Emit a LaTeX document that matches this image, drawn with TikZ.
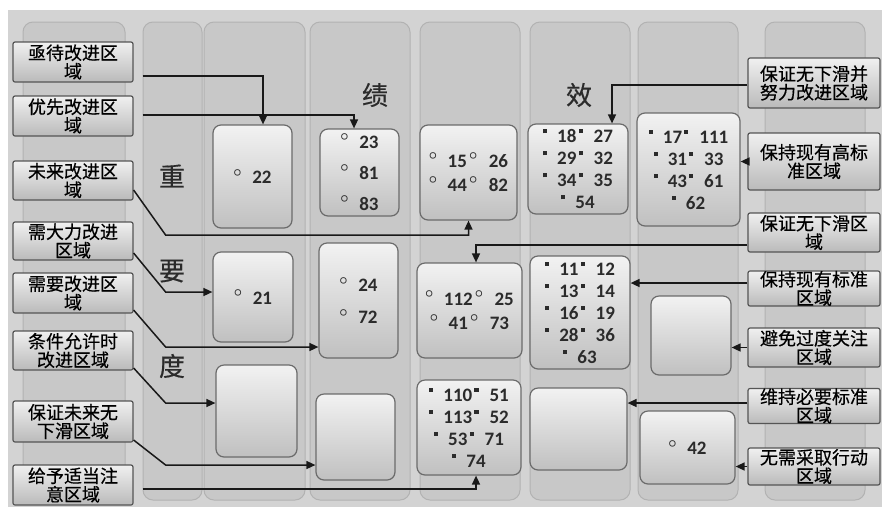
\documentclass[tikz,border=0pt]{standalone}
\usepackage{fontspec}
\usepackage{amsmath}
\usepackage{xcolor}
\usepackage{tikz}
\usetikzlibrary{positioning, arrows.meta}
\newfontfamily\cjk[FakeBold=0.4]{Noto Sans CJK SC}
\newfontfamily\numfont{Carlito}
\definecolor{bggray}{HTML}{D3D3D3}
\definecolor{colfill}{HTML}{C8C8C8}
\definecolor{colline}{HTML}{B2B2B2}
\definecolor{celltop}{HTML}{F2F2F2}
\definecolor{cellbot}{HTML}{C0C0C0}
\definecolor{cellline}{HTML}{6B6B6B}
\definecolor{lbltop}{HTML}{F0F0F0}
\definecolor{lblbot}{HTML}{BABABA}
\definecolor{lblline}{HTML}{555555}
\definecolor{inkgray}{HTML}{2B2B2B}
\newcommand\hbul{\raisebox{1.5pt}{$^{\boldsymbol{\circ}}$}}
\newcommand\fbul{\rule[9.5pt]{4.2pt}{4.2pt}}
\newcommand\numgap{\hspace{10pt}}
\newcommand\colgap{\hspace{11pt}}
\newcommand\tightgap{\hspace{2pt}}
\tikzset{
  colbox/.style={draw=colline, line width=1pt, fill=colfill, rounded corners=10pt},
  cell/.style={draw=cellline, line width=1.2pt, rounded corners=8pt,
    top color=celltop, bottom color=cellbot, inner sep=0pt, align=center,
    text=inkgray, font=\numfont\bfseries\fontsize{19}{22}\selectfont},
  area/.style={draw=lblline, line width=1.2pt, rounded corners=2pt,
    top color=lbltop, bottom color=lblbot, inner sep=0pt, align=center,
    text=black, font=\cjk\fontsize{18}{18.5}\selectfont},
  larea/.style={area, minimum width=120pt},
  rarea/.style={area, minimum width=132pt},
  axischar/.style={font=\cjk\fontsize{26}{26}\selectfont, text=inkgray},
  conn/.style={draw=black!90, line width=1.5pt, -{Triangle[length=9pt,width=8pt]}},
}

\begin{document}
\begin{tikzpicture}[x=1pt, y=-1pt]
  \useasboundingbox (0,0) rectangle (882,507);
  \fill[white] (0,0) rectangle (882,507);
  \fill[bggray] (8,10) rectangle (882,507);
  % columns
  \foreach \xa/\xb in {23/125, 143/202, 204/305, 310/410, 420/520, 530/630, 638/738, 765/865}
    \draw[colbox] (\xa,22) rectangle (\xb,500);

  % axis characters
  \node (ji) [axischar] at (375,95) {绩};
  \node (xiao) [axischar] at (579,95) {效};
  \node (zhong) [axischar] at (172,176) {重};
  \node (yao) [axischar] at (172,271) {要};
  \node (du) [axischar] at (172,366) {度};

  % cells, first row
  \node (c22) [cell, minimum width=79pt, minimum height=103pt] at (252.5,176.5) {\hbul\numgap 22};
  \node (c23) [cell, minimum width=79pt, minimum height=87pt] at (359.5,172.5)
    {\hbul\numgap 23\\[9pt] \hbul\numgap 81\\[9pt] \hbul\numgap 83};
  \node (c15) [cell, minimum width=97pt, minimum height=95pt] at (468.5,172.5)
    {\hbul\numgap 15\tightgap\hbul\colgap 26\\[2pt] \hbul\numgap 44\tightgap\hbul\colgap 82};
  \node (c18) [cell, minimum width=100pt, minimum height=90pt] at (578,169)
    {\fbul\numgap 18\tightgap\fbul\colgap 27\\ \fbul\numgap 29\tightgap\fbul\colgap 32\\
     \fbul\numgap 34\tightgap\fbul\colgap 35\\ \fbul\numgap 54};
  \node (c17) [cell, minimum width=103pt, minimum height=113pt] at (688.5,169.5)
    {\fbul\numgap 17\tightgap\fbul\colgap 111\\ \fbul\numgap 31\tightgap\fbul\colgap 33\\
     \fbul\numgap 43\tightgap\fbul\colgap 61\\ \fbul\numgap 62};

  % cells, second row
  \node (c21) [cell, minimum width=80pt, minimum height=90pt] at (253,297) {\hbul\numgap 21};
  \node (c24) [cell, minimum width=79pt, minimum height=115pt] at (358.5,300.5)
    {\hbul\numgap 24\\[10pt] \hbul\numgap 72};
  \node (c112) [cell, minimum width=105pt, minimum height=95pt] at (469.5,310.5)
    {\hbul\numgap 112\tightgap\hbul\colgap 25\\[2pt] \hbul\numgap 41\tightgap\hbul\colgap 73};
  \node (c11) [cell, minimum width=100pt, minimum height=113pt] at (580,312.5)
    {\fbul\numgap 11\tightgap\fbul\colgap 12\\ \fbul\numgap 13\tightgap\fbul\colgap 14\\
     \fbul\numgap 16\tightgap\fbul\colgap 19\\ \fbul\numgap 28\tightgap\fbul\colgap 36\\ \fbul\numgap 63};
  \node (e6) [cell, minimum width=80pt, minimum height=79pt] at (691,335.5) {};

  % cells, third row
  \node (e2) [cell, minimum width=81pt, minimum height=92pt] at (256.5,411) {};
  \node (e3) [cell, minimum width=79pt, minimum height=86pt] at (355.5,437) {};
  \node (c110) [cell, minimum width=104pt, minimum height=95pt] at (469,427.5)
    {\fbul\numgap 110\tightgap\fbul\colgap 51\\ \fbul\numgap 113\tightgap\fbul\colgap 52\\
     \fbul\numgap 53\tightgap\fbul\colgap 71\\ \fbul\numgap 74};
  \node (e5) [cell, minimum width=97pt, minimum height=82pt] at (578.5,429) {};
  \node (c42) [cell, minimum width=95pt, minimum height=73pt] at (687.5,447.5) {\hbul\numgap 42};

  % area labels, left
  \node (L1) [larea, minimum height=40pt] at (73,62) {亟待改进区\\域};
  \node (L2) [larea, minimum height=40pt] at (73,116) {优先改进区\\域};
  \node (L3) [larea, minimum height=39pt] at (73,180.5) {未来改进区\\域};
  \node (L4) [larea, minimum height=38pt] at (73,241) {需大力改进\\区域};
  \node (L5) [larea, minimum height=40pt] at (73,293) {需要改进区\\域};
  \node (L6) [larea, minimum height=39pt] at (73,350.5) {条件允许时\\改进区域};
  \node (L7) [larea, minimum height=41pt] at (73,421.5) {保证未来无\\下滑区域};
  \node (L8) [larea, minimum height=40pt] at (73,485) {给予适当注\\意区域};

  % area labels, right
  \node (R1) [rarea, minimum height=50pt] at (814,83) {保证无下滑并\\努力改进区域};
  \node (R2) [rarea, minimum height=57pt] at (814,161.5) {保持现有高标\\准区域};
  \node (R3) [rarea, minimum height=39pt] at (814,232.5) {保证无下滑区\\域};
  \node (R4) [rarea, minimum height=33pt] at (814,288.5) {保持现有标准\\区域};
  \node (R5) [rarea, minimum height=39pt] at (814,347.5) {避免过度关注\\区域};
  \node (R6) [rarea, minimum height=34pt] at (814,406) {维持必要标准\\区域};
  \node (R7) [rarea, minimum height=37pt] at (814,466.5) {无需采取行动\\区域};

  % connectors from the left
  \draw[conn] ([xshift=9pt, yshift=-14pt]L1.east) -| ([xshift=10.5pt]c22.north);
  \draw[conn] ([xshift=9pt, yshift=1pt]L2.east) -| ([xshift=-5.5pt]c23.north);
  \draw[conn] ([yshift=-9.5pt]L3.east) -- ++(32,45) -| (c15.south);
  \draw[conn] ([yshift=-12pt]L4.east) -- ++(32,39) coordinate (b4) -- (b4 -| c21.west);
  \draw[conn] ([yshift=-17pt]L5.east) -- ++(32,37) coordinate (b5) -- (b5 -| c24.west);
  \draw[conn] ([yshift=-17.5pt]L6.east) -- ++(32,35) coordinate (b6) -- (b6 -| e2.west);
  \draw[conn] ([yshift=-18.5pt]L7.east) -- ++(32,25) coordinate (b7) -- (b7 -| e3.west);
  \draw[conn] ([xshift=9pt, yshift=-4pt]L8.east) -| ([xshift=7pt]c110.south);

  % connectors from the right
  \draw[conn] ([yshift=-2pt]R1.west) -| ([xshift=34pt]c18.north);
  \draw[conn] (R2.west) -- (R2.west -| c17.east);
  \draw[conn] ([yshift=-12.5pt]R3.west) -| ([xshift=6.5pt]c112.north);
  \draw[conn] ([yshift=5.5pt]R4.west) coordinate (r4) -- (r4 -| c11.east);
  \draw[conn] (R5.west) -- (R5.west -| e6.east);
  \draw[conn] ([yshift=3pt]R6.west) coordinate (r6) -- (r6 -| e5.east);
  \draw[conn] (R7.west) -- (R7.west -| c42.east);
\end{tikzpicture}
\end{document}
